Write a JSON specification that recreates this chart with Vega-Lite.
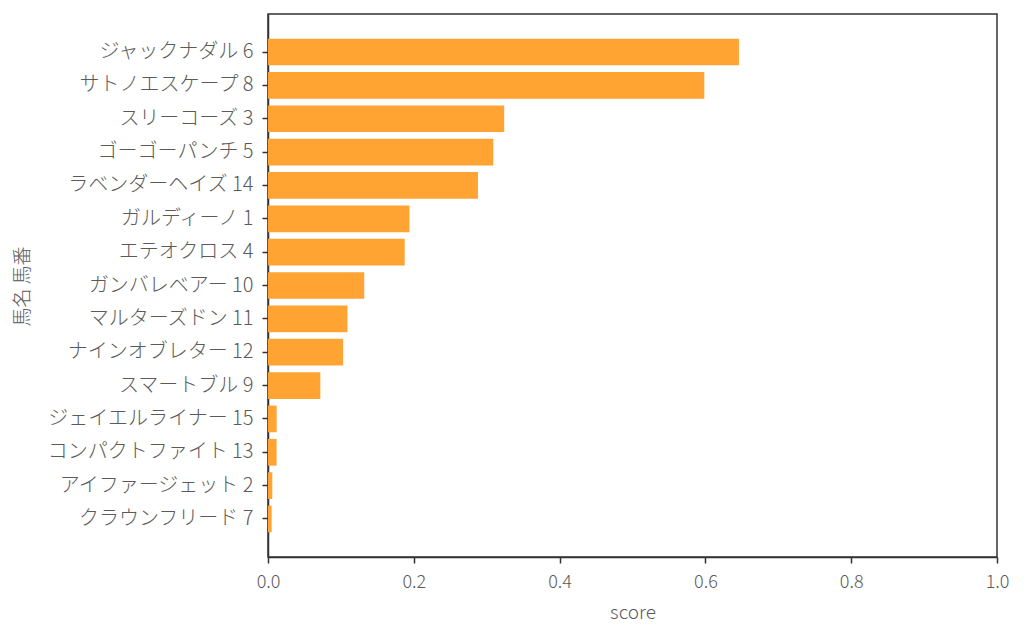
{
  "$schema": "https://vega.github.io/schema/vega-lite/v6.json",
  "width": 729,
  "height": 543,
  "autosize": "none",
  "padding": {"left": 268, "top": 14, "right": 27, "bottom": 81},
  "background": "white",
  "data": {
    "values": [
      {"horse": "ジャックナダル 6", "score": 0.646},
      {"horse": "サトノエスケープ 8", "score": 0.5985},
      {"horse": "スリーコーズ 3", "score": 0.324},
      {"horse": "ゴーゴーパンチ 5", "score": 0.309},
      {"horse": "ラベンダーヘイズ 14", "score": 0.288},
      {"horse": "ガルディーノ 1", "score": 0.194},
      {"horse": "エテオクロス 4", "score": 0.1875},
      {"horse": "ガンバレベアー 10", "score": 0.132},
      {"horse": "マルターズドン 11", "score": 0.109},
      {"horse": "ナインオブレター 12", "score": 0.103},
      {"horse": "スマートブル 9", "score": 0.0718},
      {"horse": "ジェイエルライナー 15", "score": 0.0119},
      {"horse": "コンパクトファイト 13", "score": 0.0118},
      {"horse": "アイファージェット 2", "score": 0.0059},
      {"horse": "クラウンフリード 7", "score": 0.005}
    ]
  },
  "mark": {"type": "bar", "color": "#ffa333"},
  "encoding": {
    "y": {
      "field": "horse",
      "type": "nominal",
      "sort": "-x",
      "title": "馬名 馬番",
      "scale": {"paddingInner": 0.2, "paddingOuter": 0.74},
      "axis": {"titleX": -236, "titleY": 272, "titleAngle": -90, "labelPadding": 9, "labelLimit": 400}
    },
    "x": {
      "field": "score",
      "type": "quantitative",
      "title": "score",
      "scale": {"domain": [0, 1], "nice": false},
      "axis": {"values": [0, 0.2, 0.4, 0.6, 0.8, 1.0], "format": ".1f", "grid": false, "labelFlush": false}
    }
  },
  "config": {
    "font": "Noto Sans CJK JP",
    "view": {"stroke": "#333333", "strokeWidth": 1.5},
    "axis": {
      "domainColor": "#333333",
      "domainWidth": 1.5,
      "tickColor": "#333333",
      "tickWidth": 1.5,
      "tickSize": 6,
      "labelFont": "Noto Sans CJK JP",
      "labelFontWeight": 300,
      "labelFontSize": 20,
      "labelColor": "#5a5a5a",
      "titleFont": "Noto Sans CJK JP",
      "titleFontWeight": 300,
      "titleFontSize": 19,
      "titleColor": "#5a5a5a",
      "grid": false
    },
    "axisX": {"labelFontSize": 18, "labelPadding": 10, "titlePadding": 12}
  }
}
